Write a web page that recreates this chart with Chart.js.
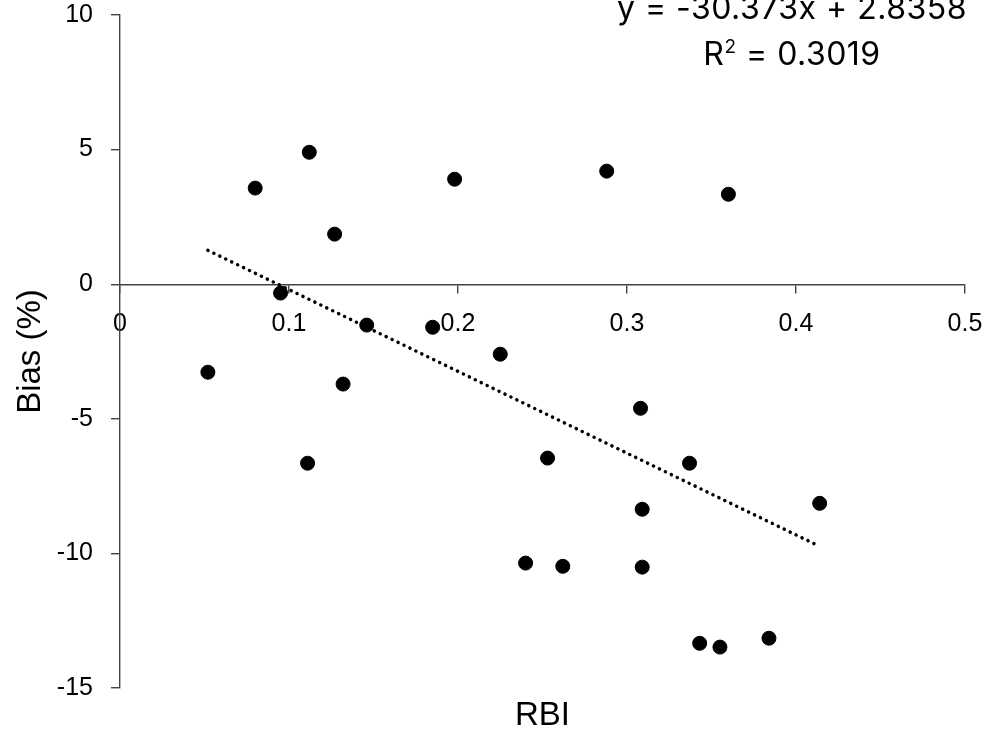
<!DOCTYPE html>
<html lang="en">
<head>
  <meta charset="UTF-8"/>
  <title>Bias vs RBI</title>
  <script src="https://cdn.jsdelivr.net/npm/chart.js"></script>
  <style>
    html, body { margin: 0; padding: 0; background: #fff; }
    #wrap { width: 986px; height: 732px; }
  </style>
</head>
<body>
  <div id="wrap"><canvas id="scatterChart" width="986" height="732"></canvas></div>

  <script>
    // Data
    const rbi  = [0.052, 0.080, 0.112, 0.111, 0.127, 0.095, 0.132, 0.146, 0.185, 0.198, 0.225, 0.253,
                  0.240, 0.262, 0.288, 0.308, 0.309, 0.309, 0.337, 0.343, 0.355, 0.360, 0.384, 0.414];
    const bias = [-3.27, 3.57, 4.90, -6.65, 1.86, -0.33, -3.71, -1.52, -1.60, 3.90, -2.60, -6.46,
                  -10.36, -10.48, 4.20, -4.61, -8.36, -10.51, -6.65, -13.34, -13.48, 3.34, -13.15, -8.14];

    // Linear trendline as printed on the chart
    const slope = -30.373;
    const intercept = 2.8358;
    const rSquared = '0.3019';

    const xTicks = [0, 0.5, 0.1];   // min, max, step
    const yTicks = [-15, 10, 5];

    const points = rbi.map((x, i) => ({ x: x, y: bias[i] }));
    const xMin = Math.min(...rbi), xMax = Math.max(...rbi);
    const trend = [xMin, xMax].map(x => ({ x: x, y: slope * x + intercept }));

    const FONT = '"Liberation Sans", Arial, sans-serif';
    const EQ_FONT = 'Inter, "Liberation Sans", sans-serif';
    Chart.defaults.font.family = FONT;
    Chart.defaults.color = '#000';

    // Trendline equation text, top right
    const trendLabel = {
      id: 'trendLabel',
      afterDraw(chart) {
        const ctx = chart.ctx;
        const cx = chart.chartArea.right - 173;
        const top = chart.chartArea.top;
        ctx.save();
        ctx.fillStyle = '#000';
        ctx.textBaseline = 'alphabetic';
        ctx.letterSpacing = '0.5px';
        const big = '32px ' + EQ_FONT, small = '19px ' + EQ_FONT;
        ctx.font = big;
        ctx.textAlign = 'center';
        ctx.fillText(`y = ${slope}x + ${intercept}`, cx, top + 4);

        // R² line with a superscript
        ctx.textAlign = 'left';
        const wR = ctx.measureText('R').width;
        const wRest = ctx.measureText(' = ' + rSquared).width;
        ctx.font = small;
        const w2 = ctx.measureText('2').width;
        let x = cx - (wR + w2 + wRest) / 2;
        const base = top + 50;
        ctx.font = big;
        ctx.fillText('R', x, base);
        x += wR;
        ctx.font = small;
        ctx.fillText('2', x, base - 12);
        x += w2;
        ctx.font = big;
        ctx.fillText(' = ' + rSquared, x, base);
        ctx.restore();
      }
    };

    const axisColor = '#444';

    new Chart(document.getElementById('scatterChart'), {
      type: 'scatter',
      data: {
        datasets: [
          {
            label: 'Bias',
            data: points,
            backgroundColor: '#000',
            borderColor: '#000',
            pointRadius: 7,
            pointHoverRadius: 7
          },
          {
            type: 'line',
            label: 'Linear',
            data: trend,
            borderColor: '#000',
            borderWidth: 3.5,
            borderDash: [0.1, 6.5],
            borderCapStyle: 'round',
            pointRadius: 0,
            fill: false
          }
        ]
      },
      options: {
        responsive: false,
        animation: false,
        layout: { padding: 0 },
        plugins: {
          legend: { display: false },
          tooltip: { enabled: false }
        },
        scales: {
          x: {
            type: 'linear',
            position: { y: 0 },
            min: xTicks[0], max: xTicks[1],
            ticks: { stepSize: xTicks[2], font: { size: 25 }, padding: 17, color: '#000' },
            grid: { drawOnChartArea: false, drawTicks: true, tickLength: 8, color: axisColor, lineWidth: 1.4 },
            border: { display: true, color: axisColor, width: 1.4 },
            afterFit: s => { s.paddingRight = 21; s.paddingLeft = 0; }
          },
          x2: {
            type: 'linear',
            position: 'bottom',
            min: xTicks[0], max: xTicks[1],
            ticks: { display: false },
            grid: { display: false },
            border: { display: false },
            title: { display: true, text: 'RBI', font: { size: 33, lineHeight: 1 }, color: '#000', padding: 0 },
            afterFit: s => { s.height = 44; s.paddingLeft = 0; s.paddingRight = 0; }
          },
          y: {
            type: 'linear',
            min: yTicks[0], max: yTicks[1],
            ticks: { stepSize: yTicks[2], font: { size: 25 }, padding: 18, color: '#000' },
            grid: { drawOnChartArea: false, drawTicks: true, tickLength: 9, color: axisColor, lineWidth: 1.4 },
            border: { display: true, color: axisColor, width: 1.4 },
            title: { display: true, text: 'Bias (%)', font: { size: 33 }, color: '#000', padding: { top: 11, bottom: 0 } },
            afterFit: s => { s.width = 120; s.paddingTop = 15; s.paddingBottom = 0; }
          }
        }
      },
      plugins: [trendLabel]
    });
  </script>
</body>
</html>
